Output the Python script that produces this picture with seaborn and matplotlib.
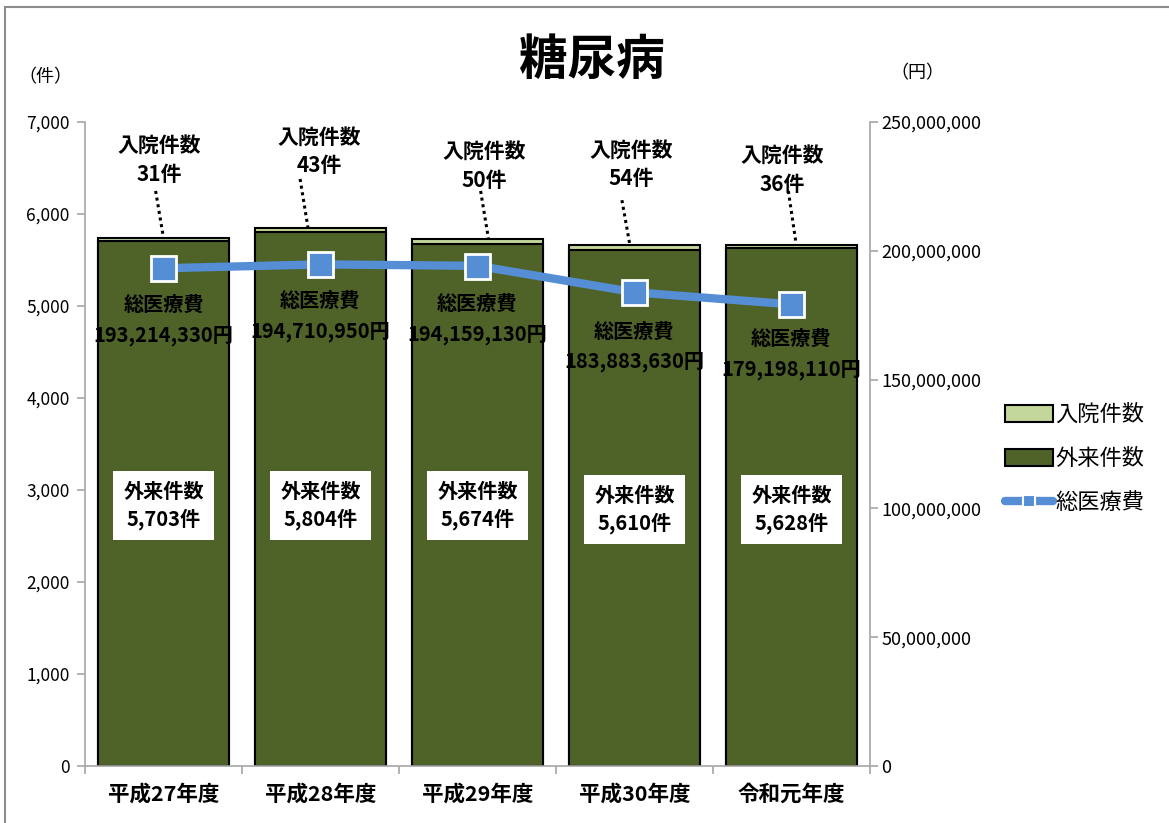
import matplotlib
matplotlib.use("Agg")
import matplotlib.pyplot as plt
import numpy as np
import pandas as pd
import seaborn as sns
from matplotlib.lines import Line2D
from matplotlib.patches import Patch, Rectangle
from matplotlib.ticker import FuncFormatter, MultipleLocator

sns.set_theme(style="white")
plt.rcParams["font.family"] = ["Noto Sans CJK JP", "DejaVu Sans"]
plt.rcParams["text.color"] = "black"
plt.rcParams["xtick.color"] = "black"
plt.rcParams["ytick.color"] = "black"

# data
years = ["平成27年度", "平成28年度", "平成29年度", "平成30年度", "令和元年度"]
outpatient = [5703, 5804, 5674, 5610, 5628]
inpatient = [31, 43, 50, 54, 36]
total_cost = [193214330, 194710950, 194159130, 183883630, 179198110]

# label placement (data coords), layout only
in_label_pos = [(-0.03, 6590), (-0.01, 6680), (0.04, 6520), (-0.02, 6540), (-0.06, 6480)]
in_line_top = [(-0.05, 6250), (1 - 0.13, 6380), (2 + 0.02, 6250), (3 - 0.08, 6150), (4 - 0.02, 6250)]
in_line_bot = [(0.0, 5740), (1 - 0.08, 5855), (2 + 0.07, 5730), (3 - 0.03, 5670), (4 + 0.03, 5670)]
cost_label_y = [4850, 4895, 4860, 4560, 4480]
out_label_y = [2830, 2830, 2830, 2790, 2790]

DARK = "#4F6228"
LIGHT = "#C3D69B"
BLUE = "#558ED5"
GREY = "#A6A6A6"

df = pd.DataFrame({
    "year": years,
    "outpatient": outpatient,
    "inpatient": inpatient,
    "cost": total_cost,
})
df["total"] = df["outpatient"] + df["inpatient"]

fig = plt.figure(figsize=(11.69, 8.23), dpi=100)
ax = fig.add_axes([0.0727, 0.0693, 0.6715, 0.7825])

sns.barplot(data=df, x="year", y="total", color=LIGHT, edgecolor="black",
            linewidth=1.5, width=0.84, saturation=1, ax=ax)
sns.barplot(data=df, x="year", y="outpatient", color=DARK, edgecolor="black",
            linewidth=1.5, width=0.84, saturation=1, ax=ax)

ax.set_xlim(-0.5, 4.5)
ax.set_ylim(0, 7000)
ax.yaxis.set_major_locator(MultipleLocator(1000))
ax.yaxis.set_major_formatter(FuncFormatter(lambda v, p: f"{v:,.0f}"))
ax.set_xlabel("")
ax.set_ylabel("")
for side in ["top", "right"]:
    ax.spines[side].set_visible(False)
for side in ["left", "bottom"]:
    ax.spines[side].set_color(GREY)
    ax.spines[side].set_linewidth(1.2)
ax.tick_params(axis="y", which="major", length=6, color=GREY, width=1.2,
               labelsize=12.5, labelcolor="black", left=True, direction="out", pad=5)
ax.tick_params(axis="x", which="major", length=0, labelsize=15.5,
               labelcolor="black", pad=13)
ax.set_xticks(np.arange(-0.5, 5.0, 1.0), minor=True)
ax.tick_params(axis="x", which="minor", length=6, color=GREY, width=1.2,
               bottom=True, direction="out")
for lbl in ax.get_xticklabels():
    lbl.set_fontweight("bold")

ax2 = ax.twinx()
sns.lineplot(x=np.arange(len(years)), y=df["cost"], color=BLUE, linewidth=6,
             marker="s", markersize=18, markerfacecolor=BLUE,
             markeredgecolor="white", markeredgewidth=2, ax=ax2)
ax2.set_ylim(0, 250000000)
ax2.yaxis.set_major_locator(MultipleLocator(50000000))
ax2.yaxis.set_major_formatter(FuncFormatter(lambda v, p: f"{v:,.0f}"))
ax2.set_ylabel("")
for side in ["top", "left", "bottom"]:
    ax2.spines[side].set_visible(False)
ax2.spines["right"].set_color(GREY)
ax2.spines["right"].set_linewidth(1.2)
ax2.tick_params(axis="y", length=6, color=GREY, width=1.2, labelsize=13,
                labelcolor="black", right=True, direction="out", pad=2)

# inpatient labels with dotted leaders
for i, n in enumerate(inpatient):
    tx, ty = in_label_pos[i]
    ax.text(i + tx, ty, f"入院件数\n{n}件", ha="center", va="center",
            fontsize=15, fontweight="bold", linespacing=1.45)
    x0, y0 = in_line_top[i]
    x1, y1 = in_line_bot[i]
    ax.plot([x0, x1], [y0, y1], color="black", linestyle=(0, (1, 1.2)),
            linewidth=2.2)

# total cost labels
for i, c in enumerate(total_cost):
    ax.text(i, cost_label_y[i], f"総医療費\n{c:,}円", ha="center", va="center",
            fontsize=14.5, fontweight="bold", linespacing=1.55, zorder=5)

# outpatient labels in white boxes
for i, n in enumerate(outpatient):
    ax.text(i, out_label_y[i], f"外来件数\n{n:,}件", ha="center", va="center",
            fontsize=14.5, fontweight="bold", linespacing=1.4, zorder=5,
            bbox=dict(boxstyle="square,pad=0.5", facecolor="white",
                      edgecolor="none"))

fig.text(0.506, 0.927, "糖尿病", ha="center", va="center", fontsize=35,
         fontweight="bold")
fig.text(0.039, 0.906, "（件）", ha="center", va="center", fontsize=13)
fig.text(0.785, 0.911, "（円）", ha="center", va="center", fontsize=13)

handles = [
    Patch(facecolor=LIGHT, edgecolor="black", linewidth=1.5),
    Patch(facecolor=DARK, edgecolor="black", linewidth=1.5),
    Line2D([0], [0], color=BLUE, linewidth=6, marker="s", markersize=8,
           markerfacecolor=BLUE, markeredgecolor="white", markeredgewidth=1.5),
]
fig.legend(handles, ["入院件数", "外来件数", "総医療費"], loc="center left",
           bbox_to_anchor=(0.846, 0.443), frameon=False, fontsize=16,
           handlelength=2.2, handleheight=0.8, labelspacing=0.95,
           handletextpad=0.1, borderpad=0.2)

fig.patches.append(Rectangle((0.004, -0.01), 1.1, 1.002, transform=fig.transFigure,
                             fill=False, edgecolor="#8C8C8C", linewidth=1.5))

fig.savefig("out.png", dpi=100)
